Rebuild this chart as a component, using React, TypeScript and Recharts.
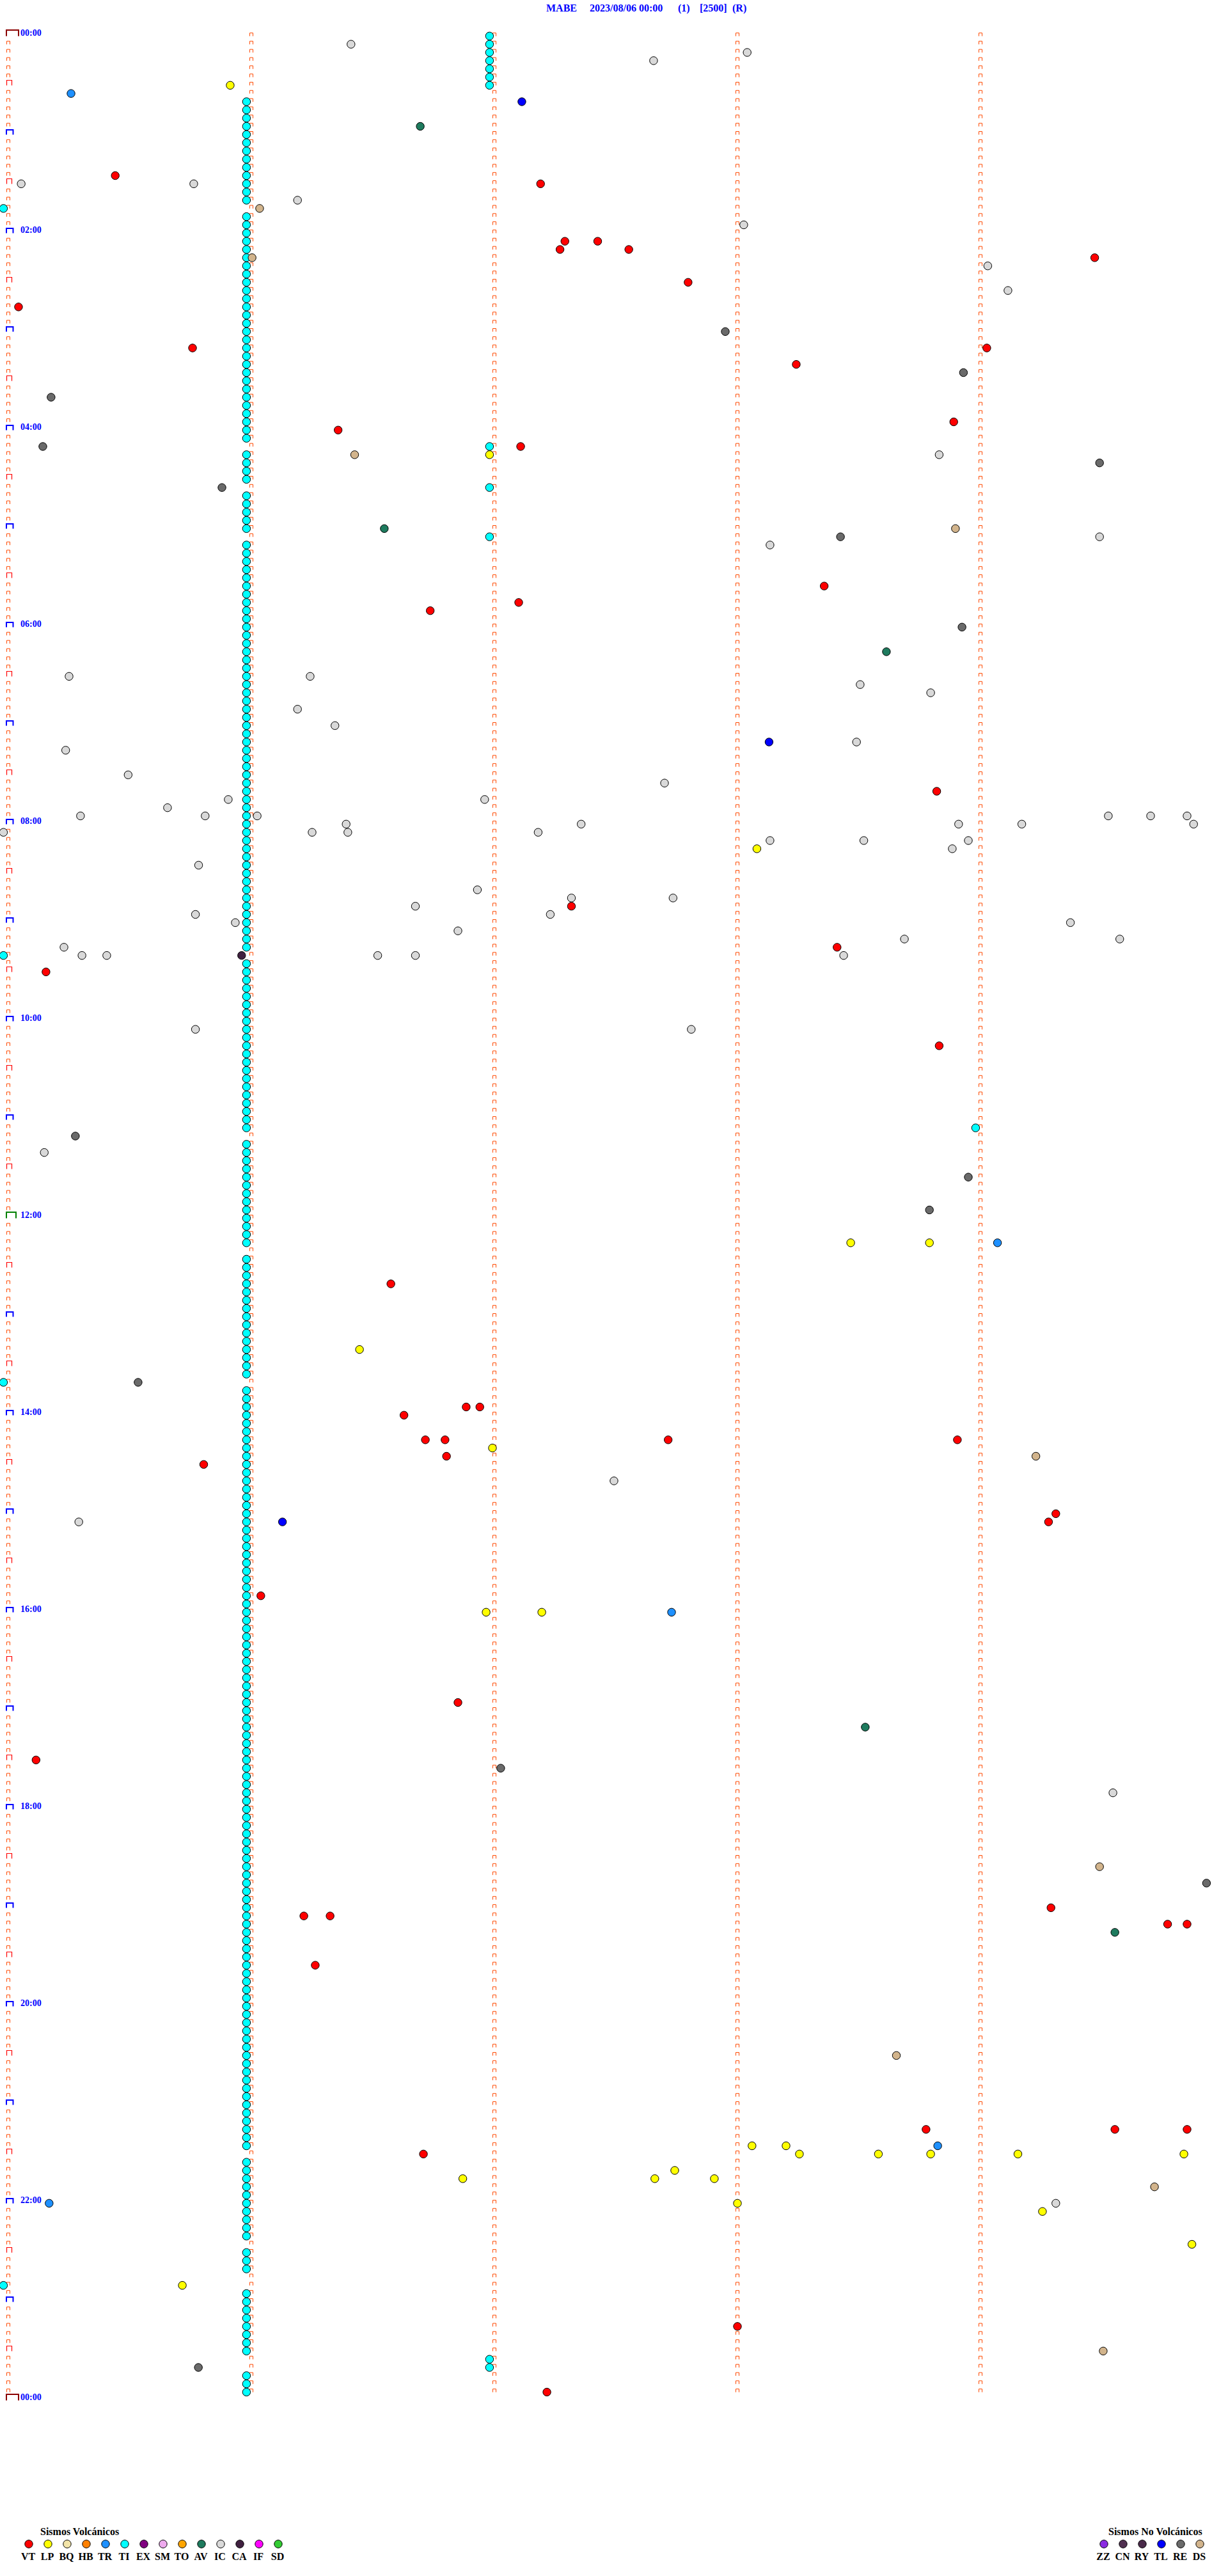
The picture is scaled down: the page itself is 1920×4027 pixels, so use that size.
import { Scatter, ScatterChart, XAxis, YAxis } from "recharts";

// helicorder-style event chart: y = 5-minute row, x = minute inside the row
type Ev = [number, number]; // [row, minute]

const VT: Ev[] = [
	[18, 0.44], [19, 2.19], [26, 2.29], [27, 2.27], [26, 2.425], [27, 2.553], [28, 4.47],
	[31, 2.797], [34, 0.042], [39, 0.758], [39, 4.026], [41, 3.242], [48, 3.89], [49, 1.357],
	[51, 2.108], [68, 3.357], [70, 2.1], [71, 1.736], [93, 3.82], [107, 2.317], [112, 3.41],
	[115, 0.155], [124, 3.83], [153, 1.574], [168, 1.884], [168, 1.94], [169, 1.628],
	[172, 1.716], [172, 1.797], [174, 1.803], [172, 2.715], [172, 3.905], [175, 0.804],
	[181, 4.31], [182, 4.28], [191, 1.039], [204, 1.85], [211, 0.114], [229, 4.29],
	[230, 1.216], [230, 1.324], [231, 4.77], [231, 4.85], [236, 1.263], [256, 3.776],
	[256, 4.553], [256, 4.85], [259, 1.708], [280, 3.0], [288, 2.216],
];

const LP: Ev[] = [
	[7, 0.913], [52, 1.98], [100, 3.08], [148, 3.466], [148, 3.79], [161, 1.445], [173, 1.992],
	[193, 1.966], [193, 2.195], [258, 3.06], [258, 3.2], [259, 3.255], [259, 3.58], [259, 3.795],
	[259, 4.154], [259, 4.837], [262, 1.87], [261, 2.742], [262, 2.66], [262, 2.905], [265, 3.0],
	[266, 4.255], [270, 4.87], [275, 0.716],
];

const TR: Ev[] = [[8, 0.258], [148, 4.07], [193, 2.729], [258, 3.824], [265, 0.168]];

const TL: Ev[] = [[9, 2.113], [87, 3.13], [182, 1.128]];

const AV: Ev[] = [[12, 1.695], [61, 1.547], [76, 3.613], [207, 3.526], [232, 4.553]];

const DS: Ev[] = [
	[22, 1.034], [28, 1.003], [52, 1.425], [61, 3.897], [174, 4.228], [224, 4.49], [247, 3.654],
	[263, 4.716], [283, 4.505],
];

const RE: Ev[] = [
	[37, 2.95], [42, 3.93], [45, 0.176], [51, 0.142], [53, 4.49], [56, 0.879], [62, 3.424],
	[73, 3.924], [135, 0.276], [140, 3.95], [144, 3.79], [165, 0.534], [212, 2.026], [226, 4.93],
	[285, 0.782],
];

const CA: Ev[] = [[113, 0.96]];

const IC: Ev[] = [
	[2, 1.41], [3, 3.04], [4, 2.655], [19, 0.053], [19, 0.763], [21, 1.19], [24, 3.026], [29, 4.03],
	[32, 4.113], [52, 3.83], [62, 4.49], [63, 3.134], [79, 0.25], [79, 1.242], [80, 3.505],
	[81, 3.795], [83, 1.19], [85, 1.344], [87, 3.49], [88, 0.236], [91, 0.493], [92, 2.7],
	[94, 1.96], [94, 0.905], [95, 0.655], [96, 0.81], [96, 1.024], [96, 0.297], [97, 1.39],
	[98, -0.02], [98, 1.25], [98, 1.397], [97, 2.357], [98, 2.18], [99, 3.134], [99, 3.52],
	[97, 3.91], [99, 3.95], [100, 3.884], [97, 4.17], [96, 4.526], [96, 4.7], [96, 4.85],
	[97, 4.877], [102, 0.783], [106, 2.317], [105, 1.93], [107, 1.675], [106, 2.735], [108, 0.77],
	[109, 0.934], [108, 2.23], [110, 1.85], [109, 4.37], [111, 3.687], [111, 4.573], [113, 3.437],
	[112, 0.229], [113, 0.303], [113, 0.405], [113, 1.52], [113, 1.675], [122, 0.77], [122, 2.81],
	[137, 0.148], [177, 2.492], [182, 0.29], [215, 4.545], [265, 4.31],
];

// tremor (TI) events outside the long chain
const TI: Ev[] = [
	[1, 1.98], [2, 1.98], [3, 1.98], [4, 1.98], [5, 1.98], [6, 1.98], [7, 1.98],
	[22, -0.02], [51, 1.98], [56, 1.98], [62, 1.98], [113, -0.02], [134, 3.98], [165, -0.02],
	[275, -0.02], [284, 1.98], [285, 1.98],
];

// rows of the continuous tremor chain, all at the same minute
const TI_CHAIN_MIN = 0.98;
const TI_CHAIN_ROWS = [
	9, 10, 11, 12, 13, 14, 15, 16, 17, 18, 19, 20, 21,
	23, 24, 25, 26, 27, 28, 29, 30, 31, 32, 33, 34, 35, 36, 37, 38, 39, 40, 41, 42, 43, 44, 45, 46,
	47, 48, 49, 50,
	52, 53, 54, 55,
	57, 58, 59, 60, 61,
	63, 64, 65, 66, 67, 68, 69, 70, 71, 72, 73, 74, 75, 76, 77, 78, 79, 80, 81, 82, 83, 84, 85, 86,
	87, 88, 89, 90, 91, 92, 93, 94, 95, 96, 97, 98, 99, 100, 101, 102, 103, 104, 105, 106, 107,
	108, 109, 110, 111, 112,
	114, 115, 116, 117, 118, 119, 120, 121, 122, 123, 124, 125, 126, 127, 128, 129, 130, 131, 132,
	133, 134,
	136, 137, 138, 139, 140, 141, 142, 143, 144, 145, 146, 147, 148,
	150, 151, 152, 153, 154, 155, 156, 157, 158, 159, 160, 161, 162, 163, 164,
	166, 167, 168, 169, 170, 171, 172, 173, 174, 175, 176, 177, 178, 179, 180, 181, 182, 183, 184,
	185, 186, 187, 188, 189, 190, 191, 192, 193, 194, 195, 196, 197, 198, 199, 200, 201, 202, 203,
	204, 205, 206, 207, 208, 209, 210, 211, 212, 213, 214, 215, 216, 217, 218, 219, 220, 221, 222,
	223, 224, 225, 226, 227, 228, 229, 230, 231, 232, 233, 234, 235, 236, 237, 238, 239, 240, 241,
	242, 243, 244, 245, 246, 247, 248, 249, 250, 251, 252, 253, 254, 255, 256, 257, 258,
	260, 261, 262, 263, 264, 265, 266, 267, 268, 269,
	271, 272, 273,
	276, 277, 278, 279, 280, 281, 282, 283,
	286, 287, 288,
];

const HOUR_LABELS = [
	"00:00", "02:00", "04:00", "06:00", "08:00", "10:00", "12:00",
	"14:00", "16:00", "18:00", "20:00", "22:00", "00:00",
];

const VOLCANIC = ["VT", "LP", "BQ", "HB", "TR", "TI", "EX", "SM", "TO", "AV", "IC", "CA", "IF", "SD"];
const VOLCANIC_COLORS = [
	"#ff0000", "#ffff00", "#f2e4a8", "#ff8000", "#1e90ff", "#00ffff", "#800080",
	"#eeaaee", "#ffa500", "#1e7b5e", "#d9d9d9", "#402040", "#ff00ff", "#33cc33",
];
const NON_VOLCANIC = ["ZZ", "CN", "RY", "TL", "RE", "DS"];
const NON_VOLCANIC_COLORS = ["#8a2be2", "#503050", "#4a2a4a", "#0000ff", "#6a6a6a", "#d2b48c"];

const TITLE = [
	{ text: "MABE", x: 854 },
	{ text: "2023/08/06 00:00", x: 922 },
	{ text: "(1)", x: 1060 },
	{ text: "[2500]", x: 1094 },
	{ text: "(R)", x: 1145 },
];

const W = 1920;
const H = 4027;
const ROW_PX = 3696 / 288;
const TOP = 43.5;
const COL_PX = 380;
const LEFT = 13;
const ROWS = 288;
const SERIF = "'Liberation Serif', 'Times New Roman', serif";
const TICK = "#ff4a00";

const colorOf = (code: string) => {
	const i = VOLCANIC.indexOf(code);
	if (i >= 0) return VOLCANIC_COLORS[i];
	return NON_VOLCANIC_COLORS[NON_VOLCANIC.indexOf(code)];
};

const toPoints = (list: Ev[]) => list.map(([row, min]) => ({ x: min, y: row }));

const series: { code: string; data: { x: number; y: number }[] }[] = [
	{ code: "TI", data: TI_CHAIN_ROWS.map((r) => ({ x: TI_CHAIN_MIN, y: r })) },
	{ code: "TI", data: toPoints(TI) },
	{ code: "IC", data: toPoints(IC) },
	{ code: "RE", data: toPoints(RE) },
	{ code: "CA", data: toPoints(CA) },
	{ code: "DS", data: toPoints(DS) },
	{ code: "AV", data: toPoints(AV) },
	{ code: "TL", data: toPoints(TL) },
	{ code: "TR", data: toPoints(TR) },
	{ code: "LP", data: toPoints(LP) },
	{ code: "VT", data: toPoints(VT) },
];

// minute marks: one per row in each of the 5 minute columns
const markData: { x: number; y: number }[] = [];
for (let c = 0; c < 5; c++) {
	for (let r = 0; r <= (c === 0 ? ROWS : ROWS - 1); r++) markData.push({ x: c, y: r });
}

function Mark(props: any) {
	const { cx, cy, payload } = props;
	const r: number = payload.y;
	const bottom = cy + 13;
	if (payload.x !== 0 || (r % 6 !== 0)) {
		return (
			<path
				d={`M${cx - 2.5},${bottom} V${cy + 8} H${cx + 2.5} V${bottom}`}
				stroke={TICK}
				strokeWidth={1}
				fill="none"
			/>
		);
	}
	if (r % 12 !== 0) {
		return (
			<path
				d={`M${cx - 2.5},${bottom} V${cy + 5} H${cx + 5.5} V${bottom}`}
				stroke="#ff0000"
				strokeWidth={1.2}
				fill="none"
			/>
		);
	}
	const midnight = r === 0 || r === ROWS;
	const noon = r === ROWS / 2;
	const color = midnight ? "#8b0000" : noon ? "#007f00" : "#0000ff";
	const right = midnight ? cx + 16 : noon ? cx + 12 : cx + 7.5;
	const top = midnight || noon ? cy + 3.5 : cy + 5.5;
	return (
		<g>
			<path
				d={`M${cx - 3},${bottom} V${top} H${right} V${bottom}`}
				stroke={color}
				strokeWidth={2}
				fill="none"
			/>
			{r % 24 === 0 && (
				<text
					x={32}
					y={cy + 12.5}
					fill="#0000ff"
					fontSize={14}
					fontWeight="bold"
					fontFamily={SERIF}
				>
					{HOUR_LABELS[r / 24]}
				</text>
			)}
		</g>
	);
}

const dotShape = (fill: string) => (props: any) => (
	<circle cx={props.cx} cy={props.cy} r={6.2} fill={fill} stroke="#000" strokeWidth={1} />
);

function LegendRow({
	title,
	titleX,
	codes,
	x0,
}: {
	title: string;
	titleX: number;
	codes: string[];
	x0: number;
}) {
	return (
		<g fontFamily={SERIF} fontWeight="bold">
			<text x={titleX} y={3963} fontSize={16} fill="#000">
				{title}
			</text>
			{codes.map((c, i) => (
				<g key={c}>
					<circle cx={x0 + i * 30} cy={3977} r={6.2} fill={colorOf(c)} stroke="#000" />
					<text x={x0 + i * 30 - 1} y={4001.5} fontSize={16} textAnchor="middle" fill="#000">
						{c}
					</text>
				</g>
			))}
		</g>
	);
}

export default function App() {
	return (
		<div style={{ position: "relative", width: W, height: H, background: "#fff" }}>
			<style>{"body{margin:0;background:#fff}"}</style>
			<ScatterChart width={W} height={H} margin={{ top: 0, right: 0, bottom: 0, left: 0 }}>
				<XAxis
					type="number"
					dataKey="x"
					domain={[-LEFT / COL_PX, (W - LEFT) / COL_PX]}
					allowDataOverflow
					hide
				/>
				<YAxis
					type="number"
					dataKey="y"
					domain={[-TOP / ROW_PX, (H - TOP) / ROW_PX]}
					allowDataOverflow
					reversed
					hide
				/>
				<Scatter data={markData} shape={Mark} isAnimationActive={false} />
				{series.map((s, i) => (
					<Scatter
						key={i}
						data={s.data}
						shape={dotShape(colorOf(s.code))}
						isAnimationActive={false}
					/>
				))}
			</ScatterChart>
			<svg
				width={W}
				height={H}
				style={{ position: "absolute", left: 0, top: 0, pointerEvents: "none" }}
			>
				{TITLE.map((t) => (
					<text
						key={t.text}
						x={t.x}
						y={18}
						fontSize={16}
						fontWeight="bold"
						fontFamily={SERIF}
						fill="#0000ff"
					>
						{t.text}
					</text>
				))}
				<LegendRow title="Sismos Volcánicos" titleX={63} codes={VOLCANIC} x0={45} />
				<LegendRow title="Sismos No Volcánicos" titleX={1733} codes={NON_VOLCANIC} x0={1726} />
			</svg>
		</div>
	);
}
